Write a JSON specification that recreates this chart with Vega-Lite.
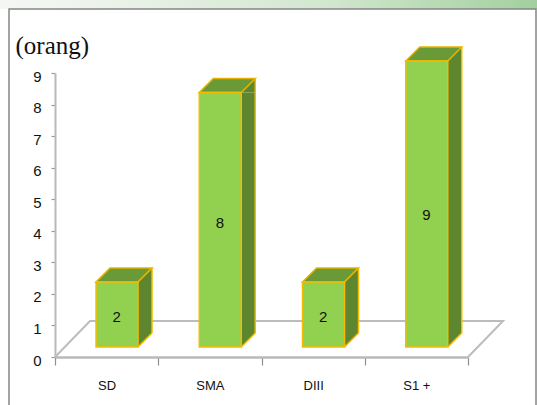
{
"$schema":"https://vega.github.io/schema/vega-lite/v6.json",
"autosize":{"type":"none"},
"padding":{"left":55,"top":73,"right":69,"bottom":48},
"width":413,"height":284,
"background":"white",
"config":{"view":{"stroke":null},"axisY":{"values":[0,1,2,3,4,5,6,7,8,9],"tickCount":10,"labelOverlap":false}},
"data":{"values":[{"cat":"SD","value":2},{"cat":"SMA","value":8},{"cat":"DIII","value":2},{"cat":"S1 +","value":9}]},
"resolve":{"scale":{"y":"independent"}},
"layer":[
{"data":{"values":[{}]},"mark":{"type":"rect","clip":false,"x":-55,"x2":482,"y":-73,"y2":-64,"fill":{"gradient":"linear","x1":0,"x2":1,"y1":0,"y2":0,"stops":[{"offset":0,"color":"#f4f6f4"},{"offset":0.12,"color":"#f0f5ef"},{"offset":0.6,"color":"#d3e7d0"},{"offset":1,"color":"#a3cf9f"}]}},"encoding":{}},
{"data":{"values":[{}]},"mark":{"type":"rect","clip":false,"x":-46,"x2":481,"y":-64,"y2":345,"fill":null,"stroke":"#858585","strokeWidth":1.5},"encoding":{}},
{
"encoding":{"x":{"field":"cat","type":"nominal","sort":null,"scale":{"type":"band","paddingInner":0,"paddingOuter":0},"axis":{"title":null,"labelAngle":0,"labelFont":"Liberation Sans","labelFontSize":13,"labelColor":"#111111","labelPadding":14,"tickSize":8,"tickColor":"#8f8f8f","tickWidth":1.2,"tickBand":"extent","domainColor":"#b9b9b9","domainWidth":2.5}}},
"layer":[
{"transform":[{"filter":"datum.cat==='SD'"}],"mark":{"type":"point","shape":"M-51.6,0L-16.6,-36L396.4,-36L361.4,0","size":4,"filled":false,"opacity":1,"stroke":"#bcbcbc","strokeWidth":2},"encoding":{"y":{"datum":0,"scale":{"domain":[0,9],"nice":false},"axis":{"title":"(orang)","titleAngle":0,"titleX":-40,"titleY":-20,"titleAlign":"left","titleBaseline":"alphabetic","titleFont":"Liberation Serif","titleFontSize":25,"titleFontWeight":"normal","titleColor":"#111111","values":[0,1,2,3,4,5,6,7,8,9],"tickCount":10,"labelOverlap":false,"labelFont":"Liberation Sans","labelFontSize":15,"labelColor":"#111111","labelPadding":10,"labelOffset":3,"tickSize":4,"tickColor":"#9a9a9a","tickWidth":1.2,"domainColor":"#b9b9b9","domainWidth":2,"grid":false}}}},
{"mark":{"type":"bar","width":14,"xOffset":38.4,"yOffset":-12,"y2Offset":-24,"fill":"#5e862e"},"encoding":{"y":{"field":"value","type":"quantitative","stack":false,"scale":{"domain":[0,9],"nice":false}},"y2":{"datum":0}}},
{"mark":{"type":"point","shape":"M31.4,-12L45.4,-26L45.4,-12Z","size":4,"filled":true,"opacity":1,"fill":"#5e862e"},"encoding":{"y":{"field":"value","type":"quantitative","scale":{"domain":[0,9],"nice":false}}}},
{"mark":{"type":"point","shape":"M31.4,-10L45.4,-24L31.4,-24Z","size":4,"filled":true,"opacity":1,"fill":"#5e862e"},"encoding":{"y":{"datum":0,"scale":{"domain":[0,9],"nice":false}}}},
{"mark":{"type":"rule","xOffset":45.4,"yOffset":-26,"y2Offset":-24,"stroke":"#f5bb00","strokeWidth":1.5},"encoding":{"y":{"field":"value","type":"quantitative","scale":{"domain":[0,9],"nice":false}},"y2":{"datum":0}}},
{"mark":{"type":"point","shape":"M31.4,-10L45.4,-24","size":4,"filled":false,"opacity":1,"stroke":"#f5bb00","strokeWidth":1.5},"encoding":{"y":{"datum":0,"scale":{"domain":[0,9],"nice":false}}}},
{"mark":{"type":"point","shape":"M-10.6,-12L31.4,-12L45.4,-26L3.4,-26Z","size":4,"filled":true,"opacity":1,"fill":"#6a9a38","stroke":"#e6b400","strokeWidth":1.5},"encoding":{"y":{"field":"value","type":"quantitative","scale":{"domain":[0,9],"nice":false}}}},
{"mark":{"type":"bar","width":42,"xOffset":10.4,"yOffset":-12,"y2Offset":-10,"fill":"#92d050","stroke":"#f5bb00","strokeWidth":1.5},"encoding":{"y":{"field":"value","type":"quantitative","stack":false,"scale":{"domain":[0,9],"nice":false}},"y2":{"datum":0}}}
]},
{"mark":{"type":"text","font":"Liberation Sans","fontSize":15,"color":"#111111","xOffset":10,"baseline":"middle"},"encoding":{"x":{"field":"cat","type":"nominal","sort":null,"scale":{"type":"band","paddingInner":0,"paddingOuter":0},"axis":{"title":null,"labelAngle":0,"labelFont":"Liberation Sans","labelFontSize":13,"labelColor":"#111111","labelPadding":14,"tickSize":8,"tickColor":"#8f8f8f","tickWidth":1.2,"tickBand":"extent","domainColor":"#b9b9b9","domainWidth":2.5}},"y":{"field":"value","type":"quantitative","scale":{"type":"log","domain":[1.109,73.3],"nice":false},"axis":null},"text":{"field":"value","type":"quantitative"}}}
]
}
